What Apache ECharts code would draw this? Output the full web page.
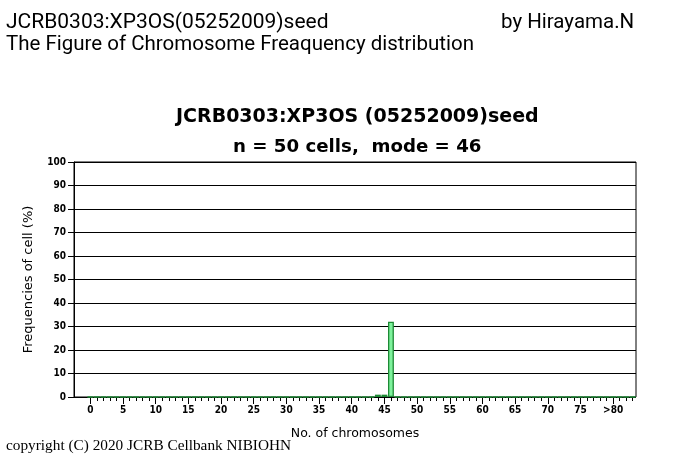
<!DOCTYPE html>
<html><head><meta charset="utf-8">
<script src="https://cdn.jsdelivr.net/npm/echarts@6/dist/echarts.min.js"></script>
<style>html,body{margin:0;padding:0;background:#fff}#c{width:700px;height:457px}</style>
</head><body><div id="c"></div>
<script>
// x categories: chromosome counts 0..83 (80 shown as ">80"), plus two blank slots on the left
const chromosomeCounts = [-2,-1,0,1,2,3,4,5,6,7,8,9,10,11,12,13,14,15,16,17,18,19,20,21,22,23,24,25,26,27,28,29,30,31,32,33,34,35,36,37,38,39,40,41,42,43,44,45,46,47,48,49,50,51,52,53,54,55,56,57,58,59,60,61,62,63,64,65,66,67,68,69,70,71,72,73,74,75,76,77,78,79,80,81,82,83];
// frequencies (%) for counts 0..83
const frequencies = [
 0,0,0,0,0,0,0,0,0,0,
 0,0,0,0,0,0,0,0,0,0,
 0,0,0,0,0,0,0,0,0,0,
 0,0,0,0,0,0,0,0,0,0,
 0,0,0,0,1,1,32,0,0,0,
 0,0,0,0,0,0,0,0,0,0,
 0,0,0,0,0,0,0,0,0,0,
 0,0,0,0,0,0,0,0,0,0,
 0,0,0,0];
const xTickLabels = ['0','5','10','15','20','25','30','35','40','45','50','55','60','65','70','75','>80'];
const yTicks = [0,10,20,30,40,50,60,70,80,90,100];

const cats = chromosomeCounts.map(String);
const barData = [null, null].concat(frequencies);
const labelIdx = {};
xTickLabels.forEach((t, i) => { labelIdx[String(i * 5)] = t; });

const chart = echarts.init(document.getElementById('c'));
const headFont = 'Roboto';
chart.setOption({
  animation: false,
  backgroundColor: '#fff',
  title: [
    {text: 'JCRB0303:XP3OS(05252009)seed', left: 1, top: 7, textStyle: {fontFamily: headFont, fontWeight: 'normal', fontSize: 21, color: '#000'}},
    {text: 'The Figure of Chromosome Freaquency distribution', left: 1, top: 29, textStyle: {fontFamily: headFont, fontWeight: 'normal', fontSize: 20.5, color: '#000'}},
    {text: 'by Hirayama.N', left: 496, top: 7, textStyle: {fontFamily: headFont, fontWeight: 'normal', fontSize: 20.5, color: '#000'}},
    {text: 'JCRB0303:XP3OS (05252009)seed', left: 171, top: 103, textStyle: {fontFamily: 'DejaVu Sans', fontWeight: 'bold', fontSize: 19, color: '#000'}},
    {text: 'n = 50 cells,  mode = 46', left: 228, top: 133, textStyle: {fontFamily: 'DejaVu Sans', fontWeight: 'bold', fontSize: 18.2, color: '#000'}},
    {text: 'copyright (C) 2020 JCRB Cellbank NIBIOHN', left: 1, top: 433, textStyle: {fontFamily: 'Liberation Serif', fontWeight: 'normal', fontSize: 15.3, color: '#000'}}
  ],
  grid: {left: 74, right: 64, top: 162, bottom: 60, show: true, borderColor: '#000', borderWidth: 1, backgroundColor: 'transparent'},
  xAxis: [{
    type: 'category', data: cats, boundaryGap: true, position: 'bottom',
    axisLine: {show: false},
    axisTick: {show: true, alignWithLabel: true, length: 4, lineStyle: {color: '#000'},
      interval: (i, v) => Number(v) >= 0},
    axisLabel: {show: true, margin: 8, fontFamily: 'DejaVu Sans Condensed', fontWeight: 'bold', fontSize: 10, color: '#000',
      interval: (i, v) => labelIdx[v] !== undefined,
      formatter: v => labelIdx[v] !== undefined ? labelIdx[v] : ''},
    name: 'No. of chromosomes', nameLocation: 'middle', nameGap: 30,
    nameTextStyle: {fontFamily: 'DejaVu Sans', fontSize: 12.5, color: '#000'}
  }, {
    type: 'category', data: cats, boundaryGap: true, position: 'bottom',
    axisLine: {show: false},
    axisTick: {show: true, alignWithLabel: true, length: 7, lineStyle: {color: '#000'},
      interval: (i, v) => labelIdx[v] !== undefined},
    axisLabel: {show: false}
  }],
  yAxis: {
    type: 'value', min: 0, max: 100, interval: 10,
    axisLine: {show: true, lineStyle: {color: '#000'}},
    axisTick: {show: true, length: 6, lineStyle: {color: '#000'}},
    axisLabel: {fontFamily: 'DejaVu Sans Condensed', fontWeight: 'bold', fontSize: 10, color: '#000', margin: 8,
      customValues: yTicks},
    splitLine: {show: true, lineStyle: {color: '#000', width: 1}},
    name: 'Frequencies of cell (%)', nameLocation: 'middle', nameGap: 39, nameRotate: 90,
    nameTextStyle: {fontFamily: 'DejaVu Sans', fontSize: 13, color: '#000'}
  },
  series: [{
    type: 'bar', xAxisIndex: 0, data: barData, barCategoryGap: '10%',
    itemStyle: {color: '#7ef29c', borderColor: '#1d8a35', borderWidth: 1.3}
  }]
});
</script></body></html>
